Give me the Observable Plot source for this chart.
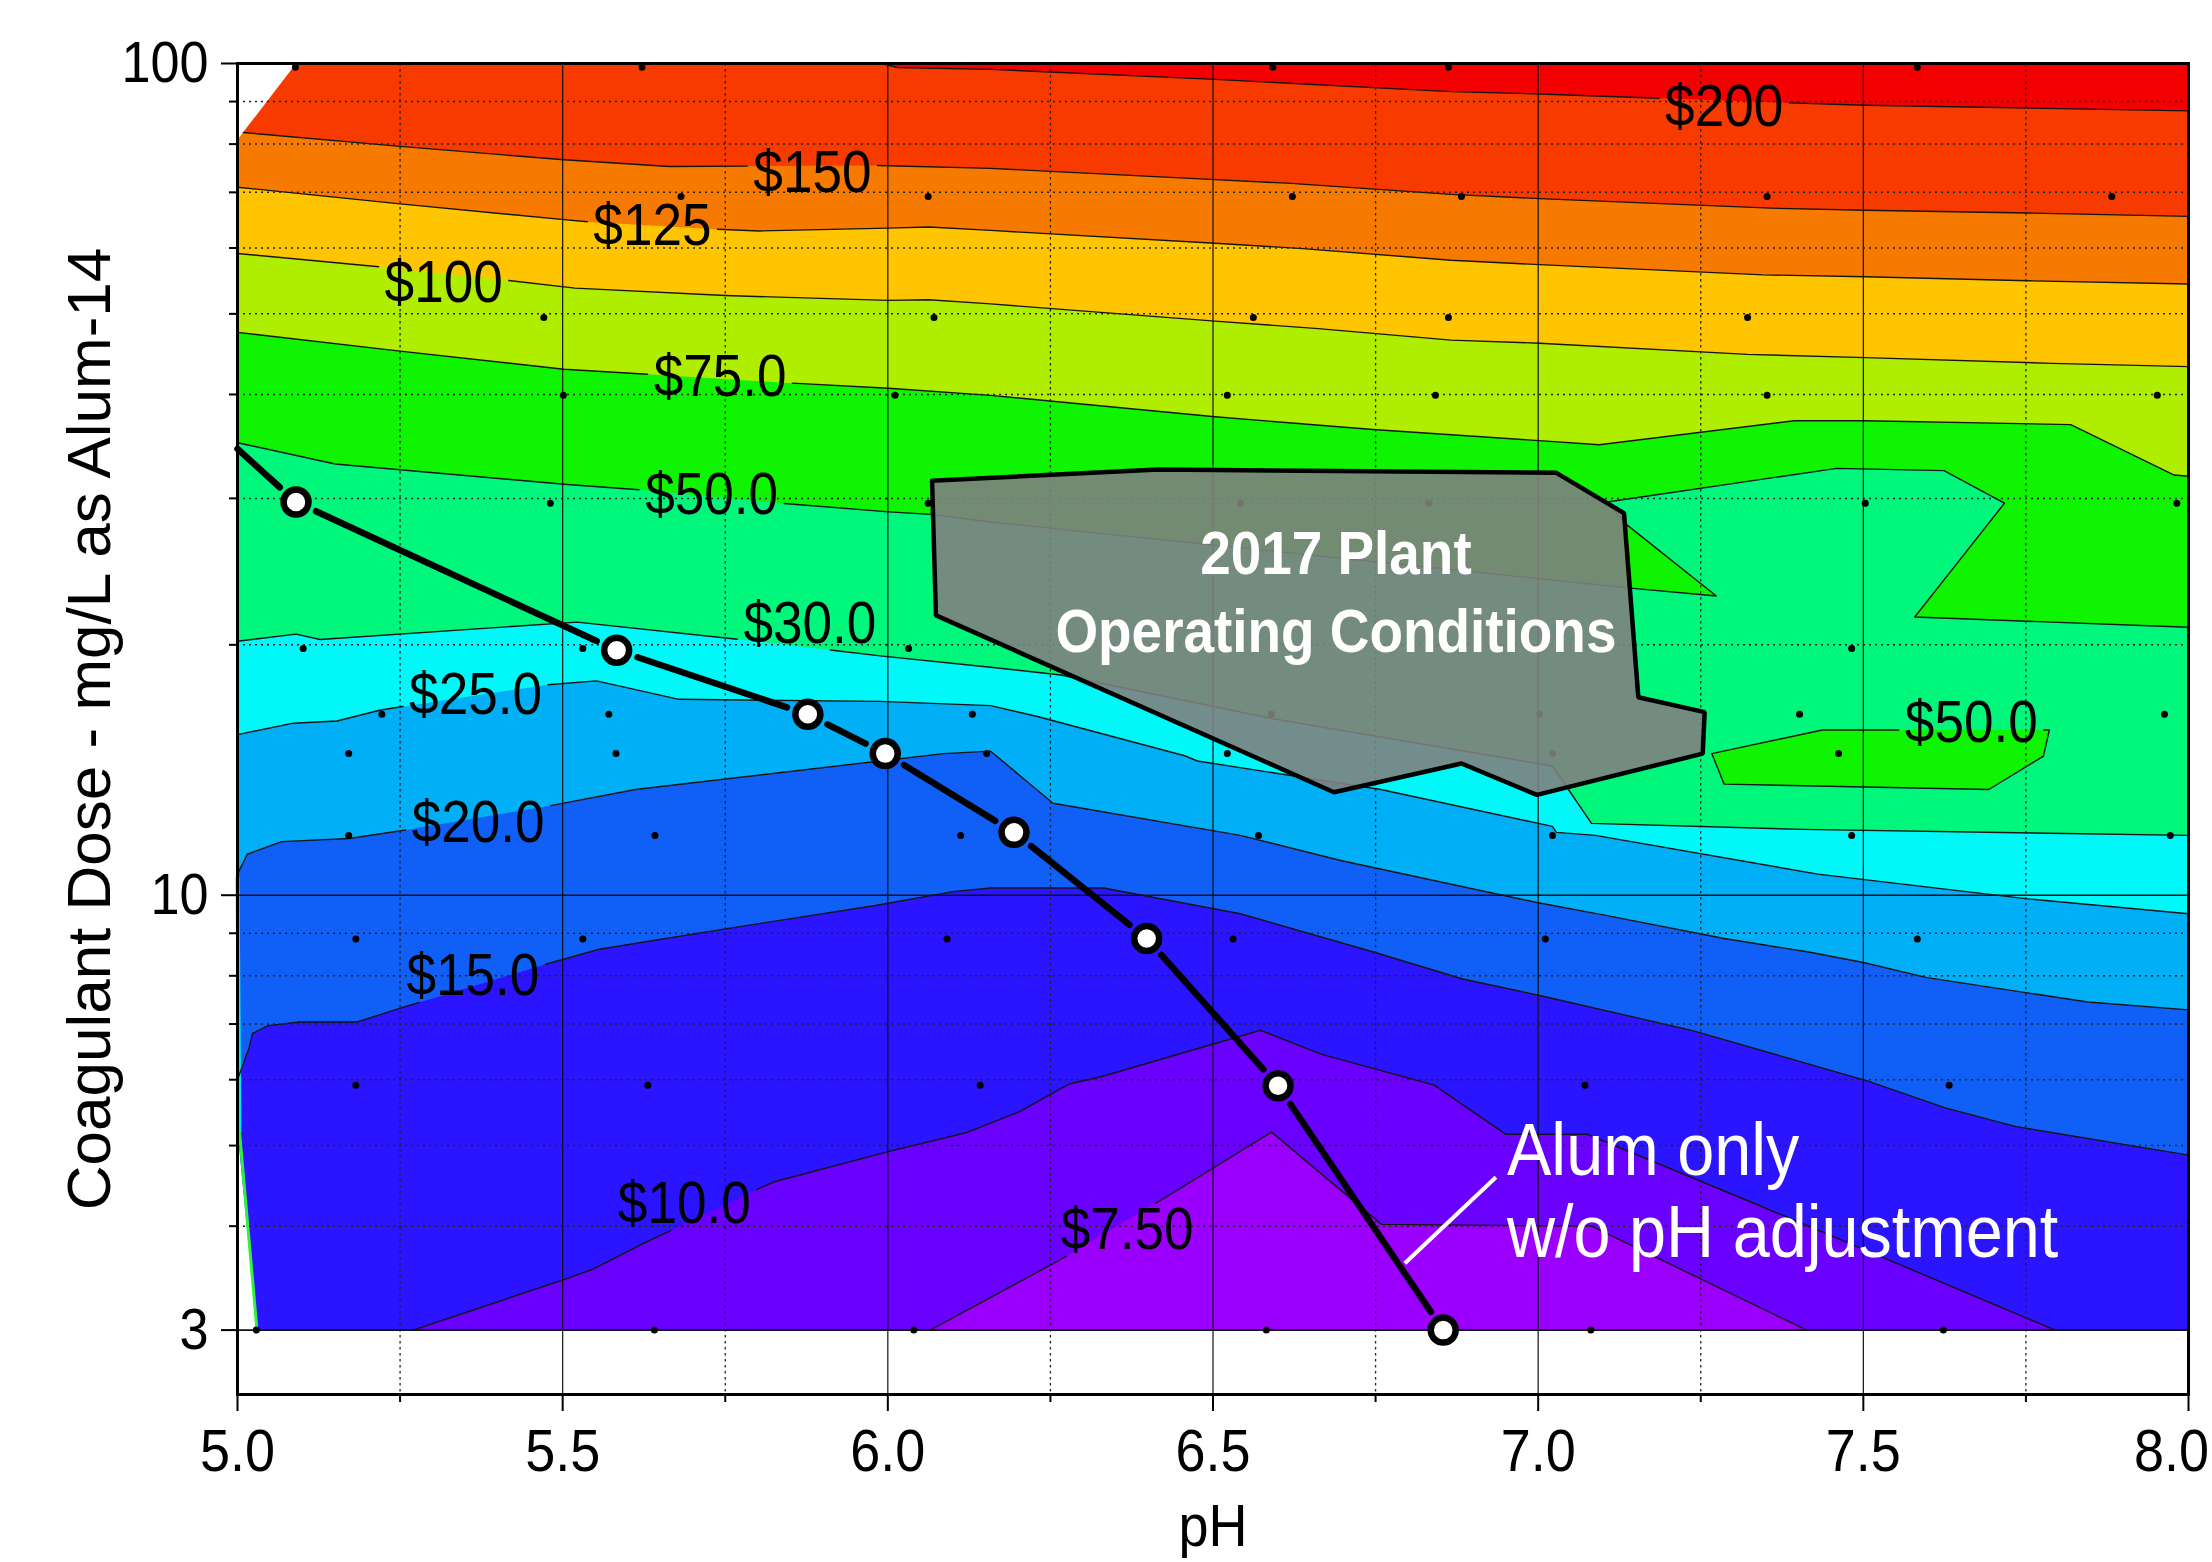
<!DOCTYPE html>
<html><head><meta charset="utf-8">
<script src="https://cdn.jsdelivr.net/npm/d3@7"></script>
<script src="https://cdn.jsdelivr.net/npm/@observablehq/plot@0.6"></script>
<style>html,body{margin:0;padding:0;background:#fff;}#chart{width:2212px;height:1562px;overflow:hidden;}</style>
</head><body><div id="chart"></div>
<script>
// ---------------- data (pH, coagulant dose mg/L) ----------------
const xMajor = [5.0, 5.5, 6.0, 6.5, 7.0, 7.5, 8.0];
const xMinor = [5.25, 5.75, 6.25, 6.75, 7.25, 7.75];
const yMajor = [3, 10, 100];
const yMinor = [4, 5, 6, 7, 8, 9, 20, 30, 40, 50, 60, 70, 80, 90];

// contour lines (cost $ per MG)
const c7_5 = [[6.065,3.0],[6.261,3.63],[6.42,4.30],[6.59,5.19],[6.759,4.02],[7.082,4.0],[7.413,3.0]];
const c10 = [[5.27,3.0],[5.502,3.45],[5.546,3.55],[5.623,3.81],[5.797,4.42],[5.824,4.52],[6.002,4.92],[6.12,5.18],[6.204,5.50],[6.279,5.93],[6.328,6.05],[6.573,6.88],[6.666,6.44],[6.84,5.91],[6.95,5.16],[7.075,5.16],[7.342,4.23],[7.795,3.0]];
const c15 = [[5.0,6.0],[5.018,6.56],[5.023,6.82],[5.047,6.97],[5.095,7.04],[5.184,7.04],[5.254,7.33],[5.474,8.26],[5.556,8.61],[5.75,9.11],[5.981,9.72],[6.1,10.1],[6.158,10.2],[6.332,10.2],[6.542,9.5],[6.748,8.54],[6.884,7.93],[7.004,7.57],[7.239,6.87],[7.506,5.98],[7.626,5.55],[7.735,5.27],[8.0,4.87]];
const c20 = [[5.0,10.6],[5.015,11.2],[5.068,11.6],[5.172,11.7],[5.265,12.0],[5.478,12.8],[5.612,13.4],[5.988,14.5],[6.086,14.8],[6.158,14.9],[6.254,12.9],[6.542,11.8],[6.698,11.0],[6.998,9.8],[7.106,9.45],[7.286,8.87],[7.418,8.54],[7.5,8.30],[7.598,7.96],[7.845,7.44],[8.0,7.28]];
const c25 = [[5.0,15.6],[5.086,16.1],[5.153,16.2],[5.22,16.7],[5.474,17.9],[5.552,18.1],[5.679,17.2],[5.988,17.1],[6.158,16.9],[6.23,16.4],[6.458,14.7],[6.476,14.5],[6.758,13.4],[7.022,12.1],[7.028,11.9],[7.088,11.8],[7.43,10.6],[7.753,9.9],[8.0,9.5]];
const c30 = [[5.0,20.2],[5.09,20.6],[5.127,20.3],[5.522,21.3],[5.772,20.3],[5.988,19.4],[6.158,18.8],[6.266,18.4],[6.592,16.3],[7.022,14.3],[7.082,12.2],[7.405,12.0],[8.0,11.8]];
const c50 = [[5.0,35.0],[5.15,33.0],[5.502,31.2],[5.623,30.7],[5.836,29.6],[6.001,28.9],[6.066,28.7],[6.158,28.1],[7.142,23.4],[7.274,22.9],[7.136,27.9],[7.106,29.7],[7.459,32.6],[7.624,32.4],[7.717,29.6],[7.579,21.6],[8.0,21.0]];
const c75 = [[5.0,47.5],[5.25,45.1],[5.502,42.9],[5.631,42.3],[5.847,41.3],[6.001,40.7],[6.158,39.9],[6.503,37.6],[6.746,36.3],[7.002,35.2],[7.094,34.8],[7.394,37.2],[7.503,37.2],[7.819,36.8],[7.978,32.0],[8.0,31.9]];
const c100 = [[5.0,59.1],[5.224,56.9],[5.411,54.9],[5.519,53.7],[5.75,52.6],[6.001,51.9],[6.063,52.0],[6.158,51.4],[6.503,49.0],[6.662,48.0],[6.866,46.5],[7.002,46.1],[7.322,44.7],[7.503,44.3],[7.789,43.6],[8.0,43.2]];
const c125 = [[5.0,71.0],[5.25,67.8],[5.502,64.9],[5.541,64.5],[5.735,63.2],[5.802,62.9],[6.001,63.4],[6.063,63.6],[6.158,63.0],[6.503,60.8],[6.638,59.9],[6.866,58.0],[7.002,57.3],[7.346,55.7],[7.503,55.4],[7.753,54.8],[8.0,54.3]];
const c150 = [[5.009,82.6],[5.25,79.5],[5.502,76.6],[5.664,75.2],[5.981,75.4],[6.158,74.8],[6.503,72.5],[6.614,71.8],[6.866,69.6],[7.002,68.8],[7.357,67.0],[7.503,66.6],[7.753,66.1],[8.0,65.5]];
const c200 = [[5.99,100],[6.015,98.9],[6.158,98.4],[6.503,95.7],[6.866,92.5],[7.002,91.9],[7.19,90.8],[7.382,89.7],[7.503,89.1],[7.753,88.4],[8.0,87.7]];
const island50 = [[7.267,14.8],[7.437,15.8],[7.786,15.8],[7.777,14.7],[7.693,13.4],[7.286,13.6]];

// band colours: below $7.50, then above each contour level
const bandColors = ["#9b00ff","#6a00ff","#2b14ff","#1060f7","#00aff5","#00f8f8","#00f77b","#0ff400","#afee00","#ffc500","#f77a00","#f73a00","#f50000"];
const contourLines = [c7_5, c10, c15, c20, c25, c30, c50, c75, c100, c125, c150, c200];

// contour labels
const labelText = ["$200","$150","$125","$100","$75.0","$50.0","$30.0","$25.0","$20.0","$15.0","$10.0","$7.50","$50.0"];
const labelPH   = [7.286, 5.884, 5.638, 5.317, 5.742, 5.729, 5.880, 5.366, 5.370, 5.362, 5.687, 6.368, 7.666];
const labelDose = [88.7, 73.8, 63.8, 54.5, 42.0, 30.3, 21.2, 17.4, 12.2, 7.99, 4.25, 3.96, 16.1];
const labelOn   = ["c200","c150","c125","c100","c75","c50","c30","c25","c20","c15","c10","c7_5","island50"];

// data-free corners of the surface
const blankTopLeft = [[5.0,100],[5.09,100],[5.0,81]];
const blankBottomLeft = [[5.0,5.2],[5.03,3.0],[5.0,3.0]];
const edgeCyan = [[5.0,10.5],[5.003,5.2]];
const edgeGreen = [[5.003,5.2],[5.03,3.0]];

// sampled points
const samples = [
 [5.089,99],[5.622,99],[6.592,99],[6.862,99],[7.583,99],
 [5.682,69.2],[6.062,69.2],[6.622,69.2],[6.882,69.2],[7.352,69.2],[7.882,69.2],
 [5.471,49.5],[6.071,49.5],[6.562,49.5],[6.862,49.5],[7.322,49.5],
 [5.501,39.9],[6.011,39.9],[6.522,39.9],[6.842,39.9],[7.352,39.9],[7.952,39.9],
 [5.481,29.6],[6.062,29.6],[6.542,29.6],[6.832,29.6],[7.503,29.6],[7.982,29.6],
 [5.101,19.8],[5.531,19.8],[6.032,19.8],[7.482,19.8],
 [5.222,16.5],[5.571,16.5],[6.130,16.5],[6.590,16.5],[7.002,16.5],[7.402,16.5],[7.963,16.5],
 [5.171,14.8],[5.582,14.8],[6.152,14.8],[6.522,14.8],[7.022,14.8],[7.462,14.8],
 [5.171,11.8],[5.642,11.8],[6.112,11.8],[6.570,11.8],[7.022,11.8],[7.482,11.8],[7.972,11.8],
 [5.182,8.86],[5.531,8.86],[6.091,8.86],[6.531,8.86],[7.011,8.86],[7.583,8.86],
 [5.182,5.91],[5.631,5.91],[6.142,5.91],[7.072,5.91],[7.632,5.91],
 [5.029,3],[5.641,3],[6.040,3],[6.582,3],[7.081,3],[7.623,3]
];

// 2017 plant operating region
const plantRegion = [[6.068,31.5],[6.416,32.5],[7.028,32.2],[7.132,28.8],[7.154,17.3],[7.256,16.6],[7.253,14.8],[6.998,13.2],[6.882,14.4],[6.686,13.3],[6.074,21.7]];
const plantText = ["2017 Plant","Operating Conditions"];
const plantTextPH = [6.689, 6.689];
const plantTextDose = [25.7, 20.7];

// alum only titration
const alumStart = [5.0, 34.4];
const alumPH   = [5.09, 5.583, 5.877, 5.996, 6.194, 6.398, 6.60, 6.854];
const alumDose = [29.7, 19.7, 16.5, 14.8, 11.9, 8.87, 5.90, 3.0];
const alumText = ["Alum only","w/o pH adjustment"];
const alumTextPH = [6.952, 6.952];
const alumTextDose = [4.92, 3.92];
const alumLeader = [[6.795,3.61],[6.935,4.58]];

// ---------------- layout ----------------
const W = 2212, H = 1562;
const mL = 237, mR = 24, mT = 63, mB = 168;
const yDomain = [2.51, 100];
const labelSize = 59, condense = 0.9;
const pxPerX = (W - mL - mR) / (8 - 5);
const pxPerDec = (H - mT - mB) / (Math.log10(yDomain[1]) - Math.log10(yDomain[0]));

const lines = {c7_5, c10, c15, c20, c25, c30, c50, c75, c100, c125, c150, c200, island50: [...island50, island50[0]]};

function fillPoly(line) {
  const pts = line.slice();
  if (pts[0][1] === 3 && pts[0][0] > 5) pts.unshift([5, 3]);
  const last = pts[pts.length - 1];
  if (last[1] === 3 && last[0] < 8) pts.push([8, 3]);
  pts.push([8, 100], [5, 100]);
  return pts;
}

const ctx = document.createElement("canvas").getContext("2d");
ctx.font = `${labelSize}px 'Liberation Sans', Arial, sans-serif`;
function box(i) {
  const w = ctx.measureText(labelText[i]).width * condense + 12;
  const h = labelSize * 0.72 + 10;
  const l = Math.log10(labelDose[i]);
  return {x0: labelPH[i] - w / 2 / pxPerX, x1: labelPH[i] + w / 2 / pxPerX, l0: l - h / 2 / pxPerDec, l1: l + h / 2 / pxPerDec};
}
function lb(p, q, b) {
  let t0 = 0, t1 = 1;
  const dx = q[0] - p[0], dy = q[1] - p[1];
  const P = [-dx, dx, -dy, dy], Q = [p[0] - b.x0, b.x1 - p[0], p[1] - b.l0, b.l1 - p[1]];
  for (let k = 0; k < 4; k++) {
    if (P[k] === 0) { if (Q[k] < 0) return null; }
    else {
      const t = Q[k] / P[k];
      if (P[k] < 0) { if (t > t1) return null; if (t > t0) t0 = t; }
      else { if (t < t0) return null; if (t < t1) t1 = t; }
    }
  }
  return [t0, t1];
}
const lerp = (p, q, t) => [p[0] + (q[0] - p[0]) * t, p[1] + (q[1] - p[1]) * t];
function clipped(name) {
  const pts = lines[name].map(([x, y]) => [x, Math.log10(y)]);
  let segs = [];
  for (let i = 0; i < pts.length - 1; i++) segs.push([pts[i], pts[i + 1]]);
  labelOn.forEach((n, i) => {
    if (n !== name) return;
    const b = box(i), next = [];
    for (const [p, q] of segs) {
      const r = lb(p, q, b);
      if (!r || r[1] <= r[0]) { next.push([p, q]); continue; }
      if (r[0] > 0) next.push([p, lerp(p, q, r[0])]);
      if (r[1] < 1) next.push([lerp(p, q, r[1]), q]);
    }
    segs = next;
  });
  const res = [];
  let prev = null;
  for (const [p, q] of segs) {
    const cont = prev && prev[0] === p[0] && prev[1] === p[1];
    if (prev && !cont) res.push([NaN, NaN]);
    if (!cont) res.push(p);
    res.push(q);
    prev = q;
  }
  return res.map(([x, l]) => [x, Number.isNaN(l) ? NaN : Math.pow(10, l)]);
}

const X = d => d[0], Y = d => d[1];
const fills = [
  Plot.line(fillPoly([[5, 3], [8, 3]]), {x: X, y: Y, fill: bandColors[0], stroke: "none"}),
  ...contourLines.map((c, i) => Plot.line(fillPoly(c), {x: X, y: Y, fill: bandColors[i + 1], stroke: "none"})),
  Plot.line(island50, {x: X, y: Y, fill: bandColors[7], stroke: "none"}),
  Plot.line(blankTopLeft, {x: X, y: Y, fill: "white", stroke: "none"}),
  Plot.line(blankBottomLeft, {x: X, y: Y, fill: "white", stroke: "none"}),
  Plot.line(edgeCyan, {x: X, y: Y, stroke: "#00e8f0", strokeWidth: 4}),
  Plot.line(edgeGreen, {x: X, y: Y, stroke: "#30f040", strokeWidth: 3})
];
const strokes = Object.keys(lines).map(n => Plot.line(clipped(n), {x: X, y: Y, stroke: "#151515", strokeWidth: 1.4}));

const alumPts = alumPH.map((x, i) => [x, alumDose[i]]);
const alumSegs = alumPts.slice(1).map((p, i) => ({x1: alumPts[i][0], y1: alumPts[i][1], x2: p[0], y2: p[1]}));
const fmt1 = d => d.toFixed(1);

const chart = Plot.plot({
  width: W, height: H,
  marginLeft: mL, marginRight: mR, marginTop: mT, marginBottom: mB,
  x: {domain: [5, 8], label: null},
  y: {type: "log", domain: yDomain, label: null},
  style: {fontFamily: "'Liberation Sans', Arial, sans-serif", background: "white", color: "black", overflow: "visible"},
  marks: [
    ...fills,
    ...strokes,
    Plot.ruleX(xMinor, {stroke: "#222", strokeWidth: 1.3, strokeDasharray: "2.5,3.5"}),
    Plot.ruleY(yMinor, {stroke: "#222", strokeWidth: 1.5, strokeDasharray: "2,4"}),
    Plot.ruleX(xMajor.slice(1, -1), {stroke: "#111", strokeWidth: 1.2}),
    Plot.ruleY([3, 10], {stroke: "#111", strokeWidth: 1.6}),
    Plot.dot(samples, {x: X, y: Y, r: 3.5, fill: "black", stroke: "none"}),
    Plot.line([...plantRegion, plantRegion[0]], {x: X, y: Y, fill: "#7f7f7f", fillOpacity: 0.9, stroke: "black", strokeWidth: 4.5, strokeLinejoin: "miter"}),
    Plot.text(plantText, {x: (d, i) => plantTextPH[i], y: (d, i) => plantTextDose[i], text: d => d, fill: "white", fontSize: 61, fontWeight: "bold"}),
    Plot.arrow([{x1: alumStart[0], y1: alumStart[1], x2: alumPts[0][0], y2: alumPts[0][1]}], {x1: "x1", y1: "y1", x2: "x2", y2: "y2", stroke: "black", strokeWidth: 6.5, headLength: 0, insetEnd: 22}),
    Plot.arrow(alumSegs, {x1: "x1", y1: "y1", x2: "x2", y2: "y2", stroke: "black", strokeWidth: 6.5, headLength: 0, insetStart: 22, insetEnd: 22}),
    Plot.dot(alumPts, {x: X, y: Y, r: 12.5, fill: "white", stroke: "black", strokeWidth: 6.5}),
    Plot.link([alumLeader], {x1: d => d[0][0], y1: d => d[0][1], x2: d => d[1][0], y2: d => d[1][1], stroke: "white", strokeWidth: 4}),
    Plot.text(alumText, {x: (d, i) => alumTextPH[i], y: (d, i) => alumTextDose[i], text: d => d, fill: "white", fontSize: 74, textAnchor: "start"}),
    Plot.text(labelText, {x: (d, i) => labelPH[i], y: (d, i) => labelDose[i], text: d => d, fill: "black", fontSize: labelSize}),
    Plot.frame({stroke: "black", strokeWidth: 3}),
    Plot.axisX({ticks: xMajor.slice(0, -1), tickSize: 17, tickPadding: 17, tickFormat: fmt1, fontSize: 60, strokeWidth: 2, label: null}),
    Plot.axisX({ticks: xMajor.slice(-1), tickSize: 17, tickFormat: () => "", strokeWidth: 2, label: null}),
    Plot.text(xMajor.slice(-1), {x: d => d, frameAnchor: "bottom", dy: 34, dx: -17, lineAnchor: "top", textAnchor: "middle", text: fmt1, fontSize: 60}),
    Plot.axisX({ticks: xMinor, tickSize: 8, tickFormat: () => "", strokeWidth: 2, label: null}),
    Plot.axisY({ticks: yMajor, tickSize: 16, tickPadding: 13, tickFormat: d => String(d), fontSize: 58, strokeWidth: 2, label: null}),
    Plot.axisY({ticks: yMinor, tickSize: 8, tickFormat: () => "", strokeWidth: 2, label: null}),
    Plot.text(["pH"], {frameAnchor: "bottom", dy: 109, lineAnchor: "top", textAnchor: "middle", text: d => d, fontSize: 60}),
    Plot.text(["Coagulant Dose - mg/L as Alum-14"], {frameAnchor: "left", dx: -147, rotate: -90, textAnchor: "middle", lineAnchor: "middle", text: d => d, fontSize: 62})
  ]
});

// horizontally condensed lettering, as in the original
chart.querySelectorAll("text").forEach(t => {
  const tr = t.getAttribute("transform") || "";
  if (tr.includes("rotate")) return;
  const x = parseFloat(t.getAttribute("x")) || 0;
  t.setAttribute("transform", `${tr} translate(${x},0) scale(${condense},1) translate(${-x},0)`);
});
document.getElementById("chart").appendChild(chart);
</script>
</body></html>
